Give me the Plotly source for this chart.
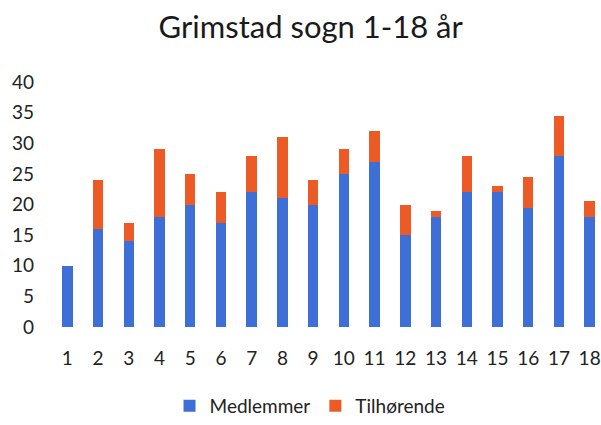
import plotly.graph_objects as go

ages = list(range(1, 19))
age_labels = [str(a) for a in ages]
medlemmer = [10, 16, 14, 18, 20, 17, 22, 21, 20, 25, 27, 15, 18, 22, 22, 19.5, 28, 18]
tilhorende = [0, 8, 3, 11, 5, 5, 6, 10, 4, 4, 5, 5, 1, 6, 1, 5, 6.5, 2.5]

FONT = "Lato"
fig = go.Figure()
fig.add_trace(go.Bar(x=ages, y=medlemmer, name="Medlemmer", marker_color="#3D6FD6",
                     marker_line_width=0, width=0.34))
fig.add_trace(go.Bar(x=ages, y=tilhorende, name="Tilhørende", marker_color="#EC5A26",
                     marker_line_width=0, width=0.34))

fig.update_layout(
    barmode="stack",
    width=601, height=425,
    margin=dict(l=52, r=0, t=82, b=98, autoexpand=False),
    paper_bgcolor="white", plot_bgcolor="white",
    font=dict(family=FONT, color="#222222"),
    title=dict(text="Grimstad sogn 1-18 år", x=0.517, xanchor="center", y=0.935, yanchor="middle",
               font=dict(family=FONT, size=31, color="#1a1a1a")),
    showlegend=True,
    legend=dict(orientation="h", x=0.47, xanchor="center", y=0, yref="container",
                yanchor="bottom", tracegroupgap=0,
                font=dict(family=FONT, size=19, color="#222222"), traceorder="normal",
                itemwidth=30),
    xaxis=dict(range=[0.5, 18.37], tickmode="array", tickvals=ages, ticktext=age_labels,
               showgrid=False, zeroline=False, showline=False, ticks="",
               tickfont=dict(family=FONT, size=19, color="#222222"), ticklabelstandoff=18,
               ticklabeloverflow="allow"),
    yaxis=dict(range=[0, 40], tickvals=[0, 5, 10, 15, 20, 25, 30, 35, 40],
               showgrid=False, zeroline=False, showline=False, ticks="",
               tickfont=dict(family=FONT, size=19, color="#222222"), ticklabelstandoff=17),
)
fig.write_html("out.html", config={"displayModeBar": False},
               post_script="document.body.style.margin='0';")
